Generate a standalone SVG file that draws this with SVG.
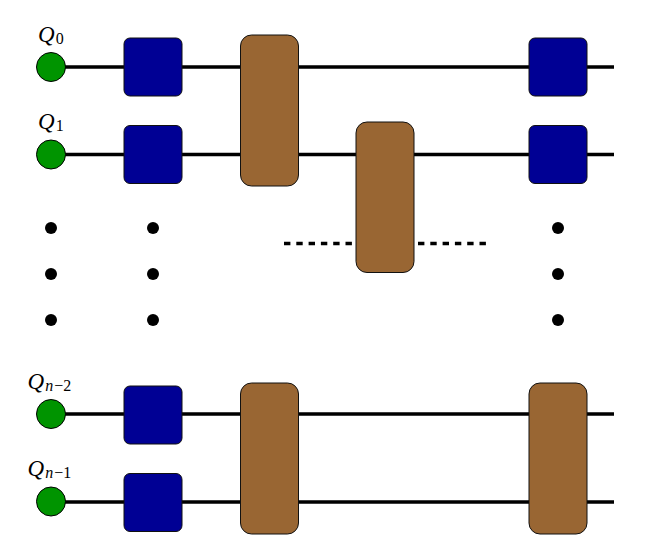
<svg xmlns="http://www.w3.org/2000/svg" width="665" height="554" viewBox="0 0 665 554">
<style>
.w{stroke:#000;stroke-width:3.300;fill:none}
.d{stroke:#000;stroke-width:3.300;fill:none;stroke-dasharray:6.400 5.900}
.q{fill:#009400;stroke:#000;stroke-width:1}
.b{fill:#000094;stroke:#111;stroke-width:1}
.g{fill:#996633;stroke:#111;stroke-width:1}
.k{fill:#000}
text{font-family:"Liberation Serif","Times New Roman",serif;fill:#000}
.t{font-size:23px;font-style:italic}
.s{font-size:16px;font-style:normal}
.si{font-size:16px;font-style:italic}
</style>
<g id="connectors">
<path class="w" d="M51 67H614M51 154.500H614M51 414H614M51 502H614"/>
<path class="d" d="M284 243.500H352M418 243.500H486"/>
</g>
<g id="q0"><circle class="q" cx="51" cy="67" r="14.500"/><text class="t" x="38" y="42">Q<tspan class="s" dx="1" dy="2">0</tspan></text></g>
<g id="q1"><circle class="q" cx="51" cy="154.500" r="14.500"/><text class="t" x="38" y="129">Q<tspan class="s" dx="1" dy="2">1</tspan></text></g>
<g id="q2"><circle class="q" cx="51" cy="414" r="14.500"/><text class="t" x="27.500" y="389">Q<tspan class="si" dx="1" dy="2">n</tspan><tspan class="s" dx="1">−2</tspan></text></g>
<g id="q3"><circle class="q" cx="51" cy="501.500" r="14.500"/><text class="t" x="27.500" y="476">Q<tspan class="si" dx="1" dy="2">n</tspan><tspan class="s" dx="1">−1</tspan></text></g>
<g id="b1"><rect class="b" x="124" y="38" width="58" height="58" rx="6"/></g>
<g id="b2"><rect class="b" x="124" y="125.500" width="58" height="58" rx="6"/></g>
<g id="b3"><rect class="b" x="124" y="386" width="58" height="58" rx="6"/></g>
<g id="b4"><rect class="b" x="124" y="473.500" width="58" height="58" rx="6"/></g>
<g id="b5"><rect class="b" x="529" y="38" width="58" height="58" rx="6"/></g>
<g id="b6"><rect class="b" x="529" y="125.500" width="58" height="58" rx="6"/></g>
<g id="g1"><rect class="g" x="240.500" y="35" width="58" height="151" rx="11"/></g>
<g id="g2"><rect class="g" x="356" y="122" width="58" height="150.500" rx="11"/></g>
<g id="g3"><rect class="g" x="240.500" y="383" width="58" height="151" rx="11"/></g>
<g id="g4"><rect class="g" x="529" y="383" width="58" height="151" rx="11"/></g>
<g id="dots1"><circle class="k" cx="51" cy="228" r="6"/><circle class="k" cx="51" cy="274" r="6"/><circle class="k" cx="51" cy="320" r="6"/></g>
<g id="dots2"><circle class="k" cx="153" cy="228" r="6"/><circle class="k" cx="153" cy="274" r="6"/><circle class="k" cx="153" cy="320" r="6"/></g>
<g id="dots3"><circle class="k" cx="558" cy="228" r="6"/><circle class="k" cx="558" cy="274" r="6"/><circle class="k" cx="558" cy="320" r="6"/></g>
</svg>
